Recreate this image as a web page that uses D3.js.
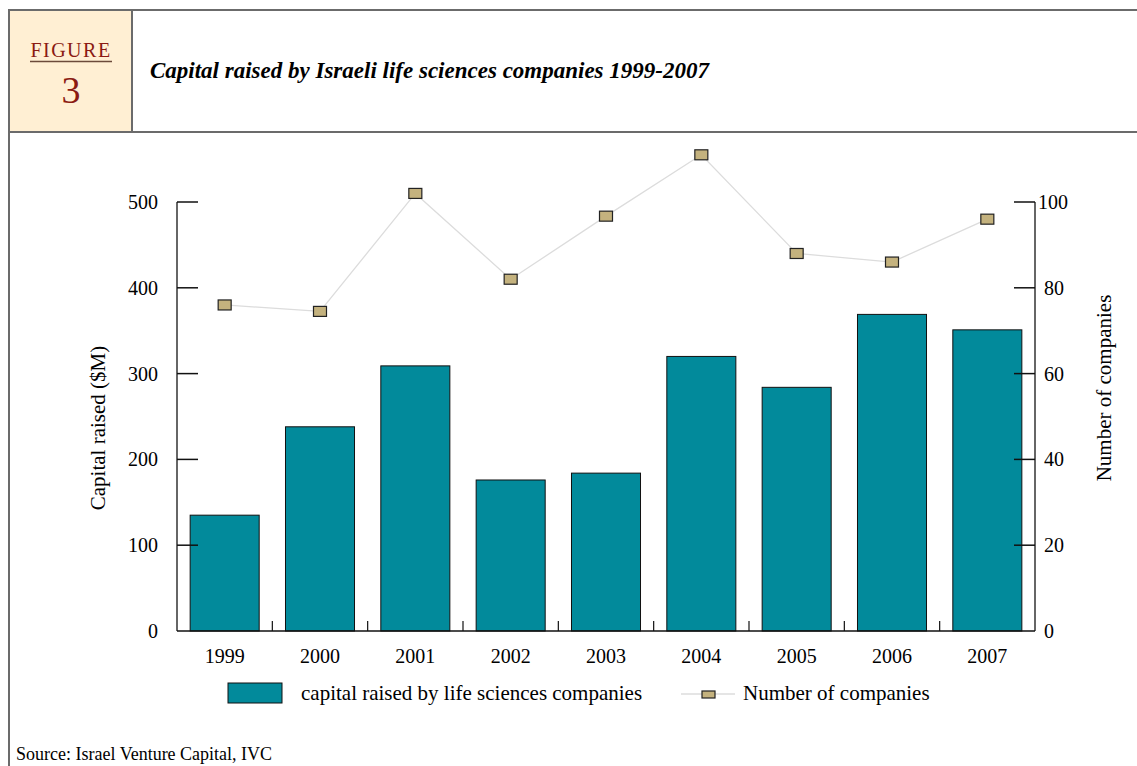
<!DOCTYPE html>
<html>
<head>
<meta charset="utf-8">
<script src="https://cdn.jsdelivr.net/npm/d3@7"></script>
<style>
  body { margin: 0; background: #fff; }
  svg { display: block; font-family: "Liberation Serif", "DejaVu Serif", serif; }
</style>
</head>
<body>
<div id="chart"></div>
<script>
// data
const years = ["1999", "2000", "2001", "2002", "2003", "2004", "2005", "2006", "2007"];
const capital = [135, 238, 309, 176, 184, 320, 284, 369, 351];
const companies = [76, 74.5, 102, 82, 96.7, 111, 88, 86, 96];
const capitalTicks = [0, 100, 200, 300, 400, 500];
const companyTicks = [0, 20, 40, 60, 80, 100];

const width = 1137;
const height = 766;

const svg = d3.select("#chart")
  .append("svg")
  .attr("width", width)
  .attr("height", height);

// header frame
svg.append("rect")
  .attr("x", 10).attr("y", 10)
  .attr("width", 122).attr("height", 122)
  .attr("fill", "#FFEFD3");
svg.append("path")
  .attr("d", "M9,766 V10 H1137 M132,10 V132 M9,132 H1137")
  .attr("fill", "none")
  .attr("stroke", "#6b6b6b")
  .attr("stroke-width", 2);

svg.append("text")
  .attr("x", 71).attr("y", 57)
  .attr("text-anchor", "middle")
  .style("font-size", "20px")
  .style("letter-spacing", "1.5px")
  .style("fill", "#8B1A12")
  .text("FIGURE");
svg.append("line")
  .attr("x1", 30).attr("x2", 112)
  .attr("y1", 61.5).attr("y2", 61.5)
  .attr("stroke", "#6b4a3a").attr("stroke-width", 1.5);
svg.append("text")
  .attr("x", 71).attr("y", 103)
  .attr("text-anchor", "middle")
  .style("font-size", "38px")
  .style("fill", "#8B1A12")
  .text("3");

svg.append("text")
  .attr("x", 150).attr("y", 78)
  .style("font-size", "23px")
  .style("font-weight", "bold")
  .style("font-style", "italic")
  .text("Capital raised by Israeli life sciences companies 1999-2007");

// scales
const x = d3.scaleBand()
  .domain(years)
  .range([177, 1035])
  .paddingInner(0.276)
  .paddingOuter(0.138);

const yLeft = d3.scaleLinear().domain([0, 500]).range([631, 202]);
const yRight = d3.scaleLinear().domain([0, 100]).range([631, 202]);

// bars
svg.append("g")
  .selectAll("rect")
  .data(capital)
  .join("rect")
  .attr("x", (d, i) => x(years[i]))
  .attr("y", d => yLeft(d))
  .attr("width", x.bandwidth())
  .attr("height", d => yLeft(0) - yLeft(d))
  .attr("fill", "#028A9B")
  .attr("stroke", "#111")
  .attr("stroke-width", 1);

// left axis
const leftAxis = svg.append("g");
leftAxis.append("line")
  .attr("x1", 177).attr("x2", 177)
  .attr("y1", yLeft(500)).attr("y2", yLeft(0))
  .attr("stroke", "#666").attr("stroke-width", 2);
leftAxis.selectAll(".tk")
  .data(capitalTicks.filter(d => d > 0))
  .join("line")
  .attr("x1", 177).attr("x2", 198)
  .attr("y1", d => yLeft(d)).attr("y2", d => yLeft(d))
  .attr("stroke", "#111").attr("stroke-width", 1.5);
leftAxis.selectAll("text")
  .data(capitalTicks)
  .join("text")
  .attr("x", 158)
  .attr("y", d => yLeft(d) + 7)
  .attr("text-anchor", "end")
  .style("font-size", "20px")
  .text(d => d);

// right axis
const rightAxis = svg.append("g");
rightAxis.append("line")
  .attr("x1", 1035).attr("x2", 1035)
  .attr("y1", yRight(100)).attr("y2", yRight(0))
  .attr("stroke", "#666").attr("stroke-width", 2);
rightAxis.selectAll(".tk")
  .data(companyTicks.filter(d => d > 0))
  .join("line")
  .attr("x1", 1014).attr("x2", 1035)
  .attr("y1", d => yRight(d)).attr("y2", d => yRight(d))
  .attr("stroke", "#111").attr("stroke-width", 1.5);
rightAxis.selectAll("text")
  .data(companyTicks)
  .join("text")
  .attr("x", d => d === 100 ? 1038 : 1044)
  .attr("y", d => yRight(d) + 7)
  .style("font-size", "20px")
  .text(d => d);

// bottom axis
const bottom = svg.append("g");
bottom.append("line")
  .attr("x1", 177).attr("x2", 1035)
  .attr("y1", 631).attr("y2", 631)
  .attr("stroke", "#111").attr("stroke-width", 1.5);
bottom.selectAll(".tk")
  .data(years.slice(1))
  .join("line")
  .attr("x1", d => x(d) - x.step() * x.paddingInner() / 2)
  .attr("x2", d => x(d) - x.step() * x.paddingInner() / 2)
  .attr("y1", 621).attr("y2", 631)
  .attr("stroke", "#111").attr("stroke-width", 1.2);
bottom.selectAll("text")
  .data(years)
  .join("text")
  .attr("x", d => x(d) + x.bandwidth() / 2)
  .attr("y", 663)
  .attr("text-anchor", "middle")
  .style("font-size", "20px")
  .text(d => d);

// axis titles
svg.append("text")
  .attr("transform", "translate(105,428) rotate(-90)")
  .attr("text-anchor", "middle")
  .style("font-size", "21px")
  .text("Capital raised ($M)");
svg.append("text")
  .attr("transform", "translate(1111,388) rotate(-90)")
  .attr("text-anchor", "middle")
  .style("font-size", "21px")
  .text("Number of companies");

// company line
const line = d3.line()
  .x((d, i) => x(years[i]) + x.bandwidth() / 2)
  .y(d => yRight(d));
svg.append("path")
  .datum(companies)
  .attr("d", line)
  .attr("fill", "none")
  .attr("stroke", "#dcdcdc")
  .attr("stroke-width", 1.3);
svg.append("g")
  .selectAll("rect")
  .data(companies)
  .join("rect")
  .attr("x", (d, i) => x(years[i]) + x.bandwidth() / 2 - 6.5)
  .attr("y", d => yRight(d) - 5)
  .attr("width", 13)
  .attr("height", 10)
  .attr("fill", "#C4B27E")
  .attr("stroke", "#222")
  .attr("stroke-width", 1.2);

// legend
const legend = svg.append("g");
legend.append("rect")
  .attr("x", 228).attr("y", 683)
  .attr("width", 54).attr("height", 20)
  .attr("fill", "#028A9B")
  .attr("stroke", "#111");
legend.append("text")
  .attr("x", 301).attr("y", 700)
  .style("font-size", "21px")
  .text("capital raised by life sciences companies");
legend.append("line")
  .attr("x1", 681).attr("x2", 735)
  .attr("y1", 694).attr("y2", 694)
  .attr("stroke", "#dcdcdc").attr("stroke-width", 1.3);
legend.append("rect")
  .attr("x", 702).attr("y", 691)
  .attr("width", 13).attr("height", 7)
  .attr("fill", "#C4B27E")
  .attr("stroke", "#222")
  .attr("stroke-width", 1.2);
legend.append("text")
  .attr("x", 743).attr("y", 700)
  .style("font-size", "21px")
  .text("Number of companies");

svg.append("text")
  .attr("x", 16).attr("y", 760)
  .style("font-size", "18px")
  .text("Source: Israel Venture Capital, IVC");
</script>
</body>
</html>
